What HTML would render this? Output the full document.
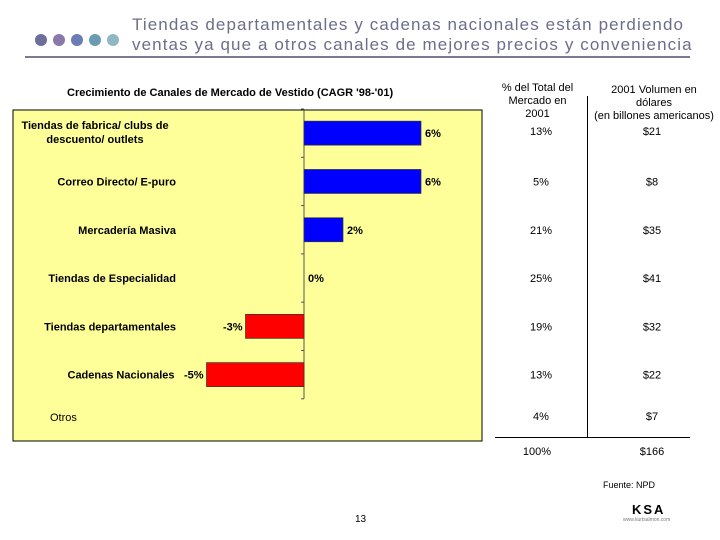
<!DOCTYPE html>
<html><head><meta charset="utf-8"><style>
body{margin:0;width:720px;height:540px;background:#fff;font-family:"Liberation Sans",sans-serif;position:relative;overflow:hidden}
.a{position:absolute}
.t{font-size:17px;letter-spacing:1.1px;color:#6b6e8c;line-height:20px;left:132px;top:15px;white-space:nowrap}
.lbl{font-size:11px;font-weight:bold;color:#000;text-align:center;white-space:nowrap}
.c{font-size:11px;text-align:center;white-space:nowrap}
</style></head><body>
<div class="a" style="left:35px;top:33px">
<svg width="90" height="14"><circle cx="6" cy="7" r="6" fill="#6a6f9c"/><circle cx="24" cy="7" r="6" fill="#8a78a8"/><circle cx="42" cy="7" r="6" fill="#6c7cb4"/><circle cx="60" cy="7" r="6" fill="#6a9cb0"/><circle cx="78" cy="7" r="6" fill="#8fb8c4"/></svg></div>
<div class="a t">Tiendas departamentales y cadenas nacionales están perdiendo<br>ventas ya que a otros canales de mejores precios y conveniencia</div>
<div class="a" style="left:25px;top:56px;width:665px;height:2px;background:#7a7a90"></div>
<div class="a lbl" style="left:67px;top:87px;font-size:11px">Crecimiento de Canales de Mercado de Vestido (CAGR '98-'01)</div>
<svg class="a" id="chart" style="left:0;top:0" width="720" height="540"></svg>
<div class="a c" style="left:480px;top:82px;width:115px;line-height:13px">% del Total del<br>Mercado en<br>2001</div>
<div class="a c" style="left:588px;top:84px;width:132px;line-height:13px">2001 Volumen en<br>dólares<br>(en billones americanos)</div>
<div class="a" style="left:587px;top:96px;width:1px;height:342px;background:#000"></div>
<div class="a" style="left:495px;top:437px;width:195px;height:1px;background:#000"></div>
<div class="a c" style="left:500px;top:446px;width:74px">100%</div>
<div class="a c" style="left:615px;top:446px;width:74px">$166</div>
<div class="a c" style="left:603px;top:480px;font-size:9px">Fuente: NPD</div>
<div class="a c" style="left:355px;top:514px;font-size:10px">13</div>
<div class="a" style="left:632px;top:502px;font-size:13px;font-weight:bold;letter-spacing:2px">KSA</div>
<div class="a" style="left:623px;top:517px;font-size:5px;color:#777">www.kurtsalmon.com</div>
<script>
const categories=["Tiendas de fabrica/ clubs de descuento/ outlets","Correo Directo/ E-puro","Mercadería Masiva","Tiendas de Especialidad","Tiendas departamentales","Cadenas Nacionales"];
const growth=[6,6,2,0,-3,-5];
const growthLabels=["6%","6%","2%","0%","-3%","-5%"];
const shareLabels=["13%","5%","21%","25%","19%","13%","4%"];
const volumeLabels=["$21","$8","$35","$41","$32","$22","$7"];
const NS="http://www.w3.org/2000/svg";
const svg=document.getElementById('chart');
const x0=304,ppu=19.5,top0=109,rowH=48.3;
const xs=v=>x0+v*ppu;
const ys=i=>top0+rowH*(i+0.5);
function mk(tag,at){const e=document.createElementNS(NS,tag);for(const k in at)e.setAttribute(k,at[k]);svg.appendChild(e);return e;}
let bg=mk('rect',{x:13,y:110,width:469,height:331,fill:'#ffff99',stroke:'#000','stroke-width':1});


let ax=mk('line',{x1:x0,x2:x0,y1:top0,y2:top0+rowH*6,stroke:'#555'});


for(let i=0;i<=6;i++){let t=mk('line',{x1:x0-3,x2:x0,y1:top0+rowH*i,y2:top0+rowH*i,stroke:'#555'});

}
categories.forEach((c,i)=>{
 const v=growth[i],y=ys(i);
 const xa=Math.min(xs(0),xs(v)),w=Math.abs(xs(v)-xs(0));
 if(w>0){let r=mk('rect',{x:xa,y:y-12,width:w,height:24,fill:v>0?'#0000ff':'#ff0000',stroke:'#333','stroke-width':0.7});
 
 }
 let vl=mk('text',{x:v>=0?xs(v)+4:xs(v)-3,y:y+4,'font-size':11,'font-weight':'bold','text-anchor':v>=0?'start':'end','font-family':'Liberation Sans'});
 vl.textContent=growthLabels[i];
 
 
 let cl=mk('text',{x:v<0?xs(v)-32:176,y:y+4,'font-size':11,'font-weight':'bold','text-anchor':'end','font-family':'Liberation Sans'});
 if(i===0){cl.setAttribute('x',95);cl.setAttribute('text-anchor','middle');cl.setAttribute('y',y-4);
  cl.innerHTML='<tspan x="95">Tiendas de fabrica/ clubs de</tspan><tspan x="95" dy="14">descuento/ outlets</tspan>';}
 else cl.textContent=c;
 if(i===4){cl.setAttribute('x',176);}
 
 
});
let ot=mk('text',{x:50,y:421,'font-size':11,'font-family':'Liberation Sans'});ot.textContent='Otros';


shareLabels.forEach((s,i)=>{
 const y=i===6?420:(i===0?135:ys(i)+4);
 let a=mk('text',{x:541,y:y,'font-size':11,'text-anchor':'middle','font-family':'Liberation Sans'});a.textContent=s;
 
 
 let b=mk('text',{x:652,y:y,'font-size':11,'text-anchor':'middle','font-family':'Liberation Sans'});b.textContent=volumeLabels[i];
 
 
});
</script>
</body></html>
